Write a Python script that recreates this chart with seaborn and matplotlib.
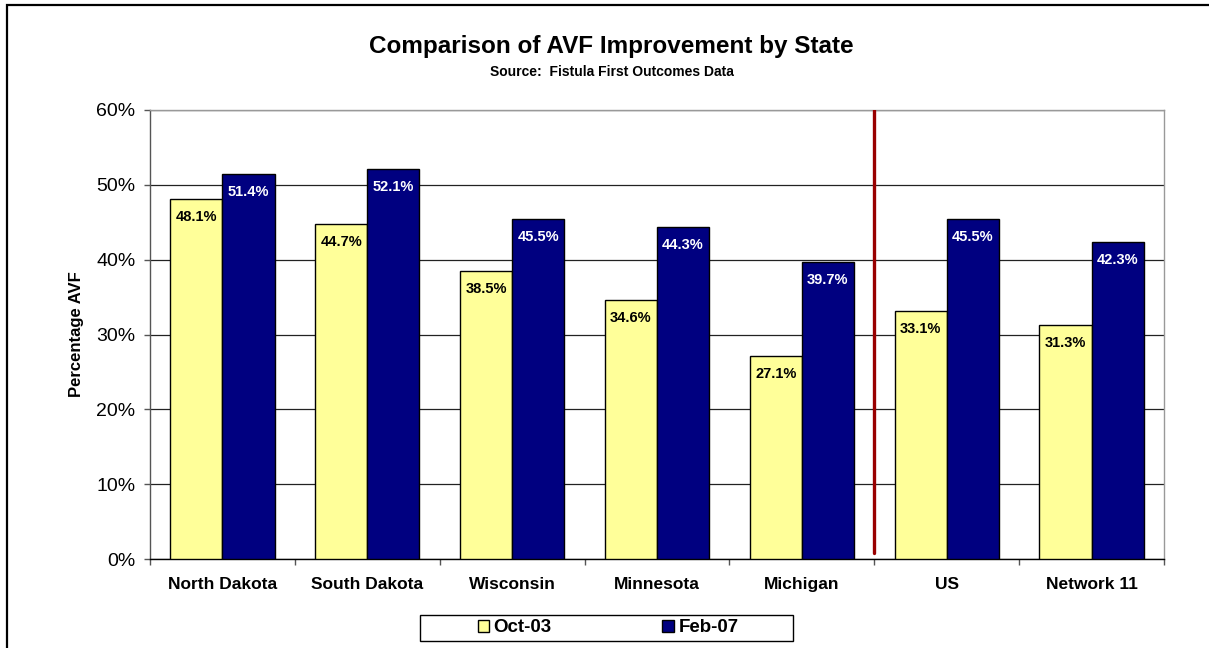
"""
Comparison of AVF improvement by state (Fistula First outcomes), bar chart.
"""
import numpy as np
import pandas as pd
import matplotlib
matplotlib.use("Agg")
import matplotlib.pyplot as plt
import matplotlib.ticker as ticker
from matplotlib.patches import Rectangle, Patch
import seaborn as sns

sns.set_theme(style="white")
plt.rcParams.update({
    "font.family": ["Liberation Sans", "DejaVu Sans"],
    "axes.linewidth": 1.0,
    "text.color": "black", "axes.labelcolor": "black",
    "xtick.color": "black", "ytick.color": "black",
})

STATES = ["North Dakota", "South Dakota", "Wisconsin", "Minnesota", "Michigan", "US", "Network 11"]
OCT_03 = [48.1, 44.7, 38.5, 34.6, 27.1, 33.1, 31.3]
FEB_07 = [51.4, 52.1, 45.5, 44.3, 39.7, 45.5, 42.3]
PERIODS = ["Oct-03", "Feb-07"]
COLORS = {"Oct-03": "#FFFF99", "Feb-07": "#000080"}
LABEL_COLORS = {"Oct-03": "black", "Feb-07": "white"}

df = pd.DataFrame({
    "State": STATES * 2,
    "Period": ["Oct-03"] * len(STATES) + ["Feb-07"] * len(STATES),
    "AVF": OCT_03 + FEB_07,
})

W, H = 1209, 648
fig = plt.figure(figsize=(W / 100, H / 100), dpi=100)
ax = fig.add_axes([150 / W, 1 - 559 / H, (1164 - 150) / W, (559 - 110) / H])

sns.barplot(data=df, x="State", y="AVF", hue="Period", order=STATES, hue_order=PERIODS,
            palette=COLORS, width=0.72, edgecolor="black", linewidth=1.0,
            saturation=1, errorbar=None, ax=ax, zorder=3)
ax.get_legend().remove()

# value labels inside top of bars
for cont, period, vals in zip(ax.containers, PERIODS, [OCT_03, FEB_07]):
    ax.bar_label(cont, labels=[f"{v:.1f}%" for v in vals], padding=-18,
                 color=LABEL_COLORS[period], fontsize=10.5, fontweight="bold", zorder=4)

ax.set_ylim(0, 60)
ax.set_xlim(-0.5, len(STATES) - 0.5)
ax.yaxis.set_major_locator(ticker.MultipleLocator(10))
ax.yaxis.set_major_formatter(ticker.FuncFormatter(lambda v, p: f"{v:.0f}%"))
ax.grid(axis="y", color="#222222", linewidth=0.9, zorder=0)
ax.set_axisbelow(True)

# separator between states and aggregates
ax.axvline(4.5, ymin=0.013, ymax=1, color="#990000", linewidth=2.4, zorder=5)

for side in ["top", "right"]:
    ax.spines[side].set_color("#999999")
ax.spines["left"].set_color("#555555")
ax.spines["bottom"].set_color("black")

ax.tick_params(axis="y", which="major", left=True, length=4.5, width=1, color="#555555",
               pad=6, labelsize=14, labelcolor="black")
ax.xaxis.set_minor_locator(ticker.FixedLocator(np.arange(-0.5, len(STATES), 1.0)))
ax.tick_params(axis="x", which="major", length=0, pad=13, labelsize=12.5, labelcolor="black")
ax.tick_params(axis="x", which="minor", bottom=True, length=4, width=1, color="#555555")
for lbl in ax.get_xticklabels():
    lbl.set_fontweight("bold")

ax.set_xlabel("")
ax.set_ylabel("Percentage AVF", fontsize=12, fontweight="bold", color="black")
ax.yaxis.set_label_coords((84 - 150) / (1164 - 150), 0.5)

fig.text(611 / W, 1 - 47 / H, "Comparison of AVF Improvement by State",
         ha="center", va="center", fontsize=17.5, fontweight="bold", color="black")
fig.text(612 / W, 1 - 72 / H, "Source:  Fistula First Outcomes Data",
         ha="center", va="center", fontsize=10, fontweight="bold", color="black")

# legend with its own box
fig.patches.append(Rectangle((420 / W, 1 - 641 / H), (793 - 420) / W, 26 / H,
                             transform=fig.transFigure, facecolor="white",
                             edgecolor="black", linewidth=1.0))
handles = [Patch(facecolor=COLORS[p], edgecolor="black", linewidth=1.0) for p in PERIODS]
leg = fig.legend(handles, PERIODS, loc="center", bbox_to_anchor=(608 / W, 1 - 628 / H),
                 ncol=2, frameon=False, handlelength=0.6, handleheight=0.6,
                 handletextpad=0.25, columnspacing=5.9, prop={"weight": "bold", "size": 13.5})

# outer frame of the original figure
fig.patches.append(Rectangle((7 / W, -0.1), 1.2, 1.1 - 5 / H, transform=fig.transFigure,
                             facecolor="none", edgecolor="black", linewidth=1.6))

fig.savefig("out.png", dpi=100)
